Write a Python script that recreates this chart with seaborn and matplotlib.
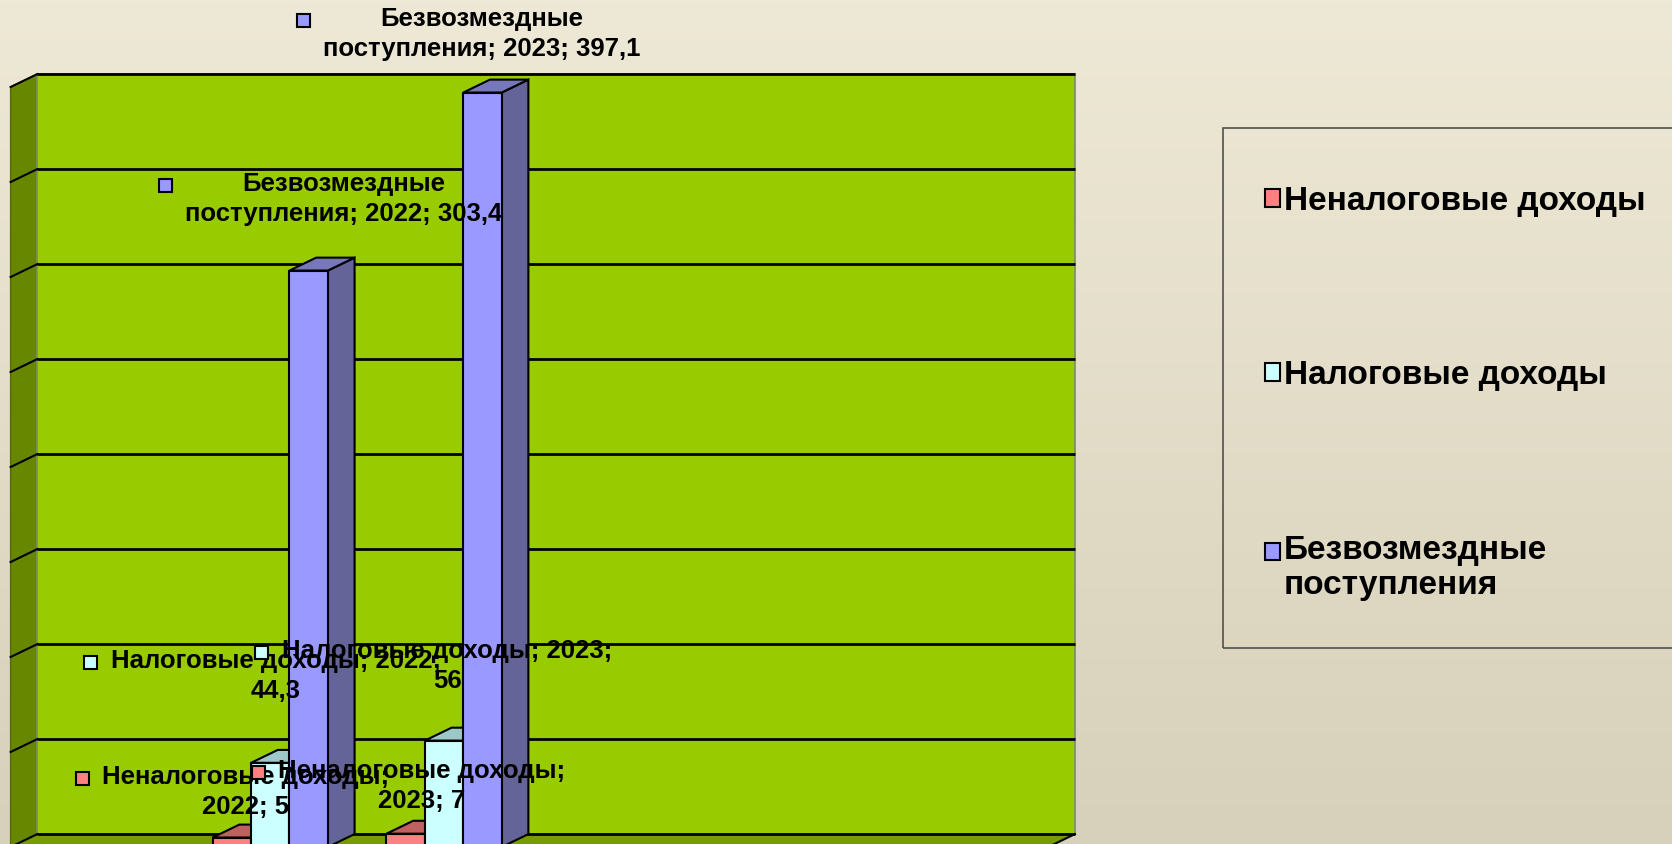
import numpy as np
import pandas as pd
import seaborn as sns
import matplotlib.pyplot as plt
from matplotlib.patches import Polygon, Rectangle, Patch
from matplotlib import font_manager as fm

years = ["2022", "2023"]
series = ["Неналоговые доходы", "Налоговые доходы", "Безвозмездные поступления"]
non_tax = [5, 7]
tax = [44.3, 56]
grants = [303.4, 397.1]
legend_labels = ["Неналоговые доходы", "Налоговые доходы", "Безвозмездные\nпоступления"]
grid_values = [0, 50, 100, 150, 200, 250, 300, 350, 400]

front_colors = ["#FF8080", "#CCFFFF", "#9999FF"]
top_colors = ["#C06060", "#9CC8C8", "#7777BB"]
side_colors = ["#B05555", "#9CC8C8", "#646499"]

W, H = 1672, 844
fig = plt.figure(figsize=(W / 100, H / 100), dpi=100)

names = {f.name for f in fm.fontManager.ttflist}
narrow = "Liberation Sans Narrow" in names
label_family = ["Liberation Sans Narrow", "DejaVu Sans"] if narrow else ["Liberation Sans", "DejaVu Sans"]
label_size = 21.5 if narrow else 18.5

# background gradient
bg = fig.add_axes([0, 0, 1, 1], zorder=-10)
grad = np.linspace(0, 1, 256).reshape(-1, 1)
top_c = np.array([0xEE, 0xE9, 0xD6]) / 255
bot_c = np.array([0xD7, 0xD0, 0xBA]) / 255
img = top_c[None, None, :] * (1 - grad[:, :, None]) + bot_c[None, None, :] * grad[:, :, None]
bg.imshow(img, aspect="auto", extent=[0, 1, 0, 1])
bg.axis("off")

ax = fig.add_axes([0, 0, 1, 1])
ax.patch.set_visible(False)

df = pd.DataFrame({
    "Год": years * 3,
    "Статья": np.repeat(series, len(years)),
    "Сумма": non_tax + tax + grants,
})
sns.barplot(data=df, x="Год", y="Сумма", hue="Статья", hue_order=series,
            palette=front_colors, saturation=1, width=0.663, edgecolor="black",
            linewidth=1.5, legend=False, ax=ax)

ax.set_xlim(-1.555, 8.065)
ax.set_ylim(1.58, 445.8)
ax.axis("off")

# depth of the 3d look
dx, dy = 0.1536, 6.8
x_left, x_right = -1.494, 4.476
top_val = grid_values[-1]

# floor, side wall and back wall
ax.add_patch(Polygon([(x_left, 0), (x_right, 0), (x_right + dx, dy), (x_left + dx, dy)],
                     closed=True, facecolor="#769C00", edgecolor="none", zorder=1))
ax.add_patch(Polygon([(x_left, 0), (x_left + dx, dy), (x_left + dx, top_val + dy), (x_left, top_val)],
                     closed=True, facecolor="#678700", edgecolor="#556B00", lw=1, zorder=1))
ax.add_patch(Rectangle((x_left + dx, dy), x_right - x_left, top_val,
                       facecolor="#99CC00", edgecolor="#7E8A66", lw=1.2, zorder=1))
for v in grid_values:
    ax.plot([x_left + dx, x_right + dx], [v + dy, v + dy], color="black", lw=2, zorder=2,
            solid_capstyle="butt")
    ax.plot([x_left, x_left + dx], [v, v + dy], color="black", lw=1.5, zorder=2)
ax.plot([x_right, x_right + dx], [0, dy], color="black", lw=1.5, zorder=2)

# 3d faces on the bars, drawn left to right
bars = sorted([p for p in ax.patches if isinstance(p, Rectangle) and p.get_height() > 0
               and p.get_width() < 1], key=lambda p: p.get_x())
for i, p in enumerate(bars):
    x, w, h = p.get_x(), p.get_width(), p.get_height()
    k = front_colors.index(
        "#%02X%02X%02X" % tuple(int(round(c * 255)) for c in p.get_facecolor()[:3]))
    z = 10 + 2 * i
    p.set_zorder(z + 1)
    ax.add_patch(Polygon([(x + w, 0), (x + w + dx, dy), (x + w + dx, h + dy), (x + w, h)],
                         closed=True, facecolor=side_colors[k], edgecolor="black", lw=1.5, zorder=z))
    ax.add_patch(Polygon([(x, h), (x + dx, h + dy), (x + w + dx, h + dy), (x + w, h)],
                         closed=True, facecolor=top_colors[k], edgecolor="black", lw=1.5, zorder=z))


def fmt(v):
    return f"{v:g}".replace(".", ",")


# data labels (positions in pixels from the top-left corner)
label_specs = [
    ("Неналоговые доходы;\n{y}; {v}", non_tax, [(246, 792), (422, 786)]),
    ("Налоговые доходы; {y};\n{v}", tax, [(276, 676), (447, 666)]),
    ("Безвозмездные\nпоступления; {y}; {v}", grants, [(344, 199), (482, 34)]),
]
texts = []
for k, (tpl, vals, pos) in enumerate(label_specs):
    for yr, v, (px, py) in zip(years, vals, pos):
        t = fig.text(px / W, 1 - py / H, tpl.format(y=yr, v=fmt(v)), ha="center", va="center",
                     multialignment="center", fontsize=label_size, fontweight="bold",
                     family=label_family, linespacing=1.3, zorder=100)
        texts.append((t, k))

fig.canvas.draw()
renderer = fig.canvas.get_renderer()
sq = 13
for t, k in texts:
    bb = t.get_window_extent(renderer)
    cx = bb.x0 - 20
    cy = bb.y1 - bb.height / 4
    fig.add_artist(Rectangle(((cx - sq / 2) / W, (cy - sq / 2) / H), sq / W, sq / H,
                             transform=fig.transFigure, facecolor=front_colors[k],
                             edgecolor="black", lw=1.5, zorder=101))

# legend
fig.add_artist(Rectangle((1223 / W, 1 - 648 / H), 500 / W, 520 / H, transform=fig.transFigure,
                         facecolor="none", edgecolor="#505050", lw=1.2, zorder=50))
handles = [Patch(facecolor=c, edgecolor="black", lw=1.5, label=l)
           for c, l in zip(front_colors, legend_labels)]
leg = fig.legend(handles=handles, loc="upper left", bbox_to_anchor=(1265 / W, 1 - 186 / H),
                 frameon=False, borderpad=0, borderaxespad=0, handlelength=0.45,
                 handleheight=0.45, handletextpad=0.12, labelspacing=4.3,
                 prop={"family": "Liberation Sans", "weight": "bold", "size": 24})
# key of the two-line entry sits on its first line
last = leg.legend_handles[-1]
last.set_y(last.get_y() + 12)

fig.savefig("out.png", dpi=100)
